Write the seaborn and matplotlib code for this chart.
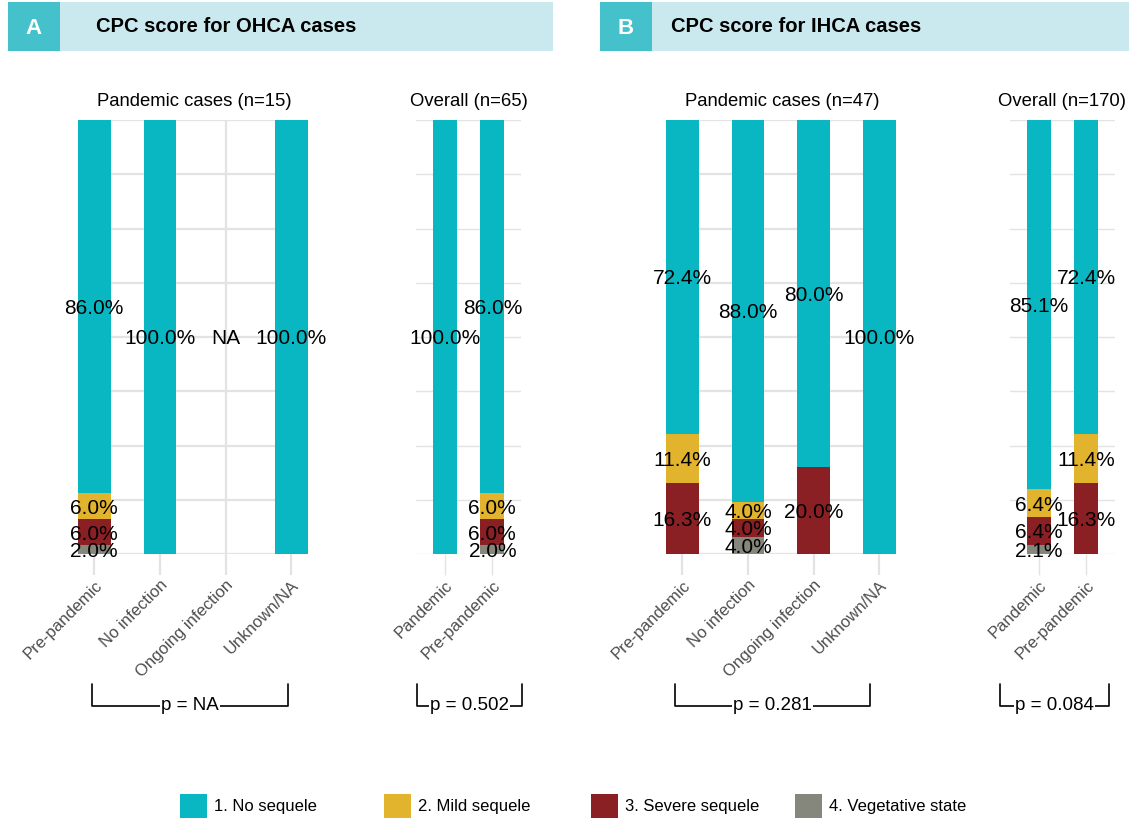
import numpy as np
import pandas as pd
import seaborn as sns
import matplotlib.pyplot as plt
from matplotlib.patches import Rectangle
from matplotlib.lines import Line2D

sns.set_theme(style="white")
plt.rcParams["font.family"] = ["Liberation Sans", "DejaVu Sans"]

# ---- data (percent of cases per CPC level) ----
cpc_levels = ["1. No sequele", "2. Mild sequele", "3. Severe sequele", "4. Vegetative state"]
cpc_colors = ["#08b7c2", "#e2b42d", "#8a2024", "#85867c"]

ohca_groups = ["Pre-pandemic", "No infection", "Ongoing infection", "Unknown/NA"]
ohca_no_sequele = [86.0, 100.0, np.nan, 100.0]
ohca_mild = [6.0, 0.0, np.nan, 0.0]
ohca_severe = [6.0, 0.0, np.nan, 0.0]
ohca_vegetative = [2.0, 0.0, np.nan, 0.0]

ohca_overall_groups = ["Pandemic", "Pre-pandemic"]
ohca_overall_no_sequele = [100.0, 86.0]
ohca_overall_mild = [0.0, 6.0]
ohca_overall_severe = [0.0, 6.0]
ohca_overall_vegetative = [0.0, 2.0]

ihca_groups = ["Pre-pandemic", "No infection", "Ongoing infection", "Unknown/NA"]
ihca_no_sequele = [72.4, 88.0, 80.0, 100.0]
ihca_mild = [11.4, 4.0, 0.0, 0.0]
ihca_severe = [16.3, 4.0, 20.0, 0.0]
ihca_vegetative = [0.0, 4.0, 0.0, 0.0]

ihca_overall_groups = ["Pandemic", "Pre-pandemic"]
ihca_overall_no_sequele = [85.1, 72.4]
ihca_overall_mild = [6.4, 11.4]
ihca_overall_severe = [6.4, 16.3]
ihca_overall_vegetative = [2.1, 0.0]

p_values = ["p = NA", "p = 0.502", "p = 0.281", "p = 0.084"]

W, H = 1129, 818
fig = plt.figure(figsize=(W / 100, H / 100), dpi=100)


def fx(x):
    return x / W


def fy(y):
    return 1 - y / H


def draw_panel(left, right, xlim, groups, values, title, lw):
    top, bottom = 120, 554
    ax = fig.add_axes([fx(left), fy(bottom), (right - left) / W, (bottom - top) / H])
    df = pd.DataFrame(np.array(values).T, index=groups, columns=cpc_levels)
    cum = df[cpc_levels[::-1]].cumsum(axis=1, skipna=False)
    cum.index.name = "group"
    cum = cum.reset_index()
    # tallest cumulative bar first, each next level drawn over it
    for lev, col in zip(cpc_levels, cpc_colors):
        sns.barplot(data=cum, x="group", y=lev, order=groups, color=col,
                    saturation=1, width=0.5, linewidth=0, errorbar=None, ax=ax)
    for p in ax.patches:
        p.set_clip_on(False)

    for i, g in enumerate(groups):
        if df.loc[g].isna().all():
            ax.text(i, 50, "NA", ha="center", va="center_baseline", fontsize=15,
                    color="black")
            continue
        base = 0
        for lev in cpc_levels[::-1]:
            v = df.loc[g, lev]
            if v > 0:
                ax.text(i, base + v / 2, f"{v:.1f}%", ha="center", va="center_baseline",
                        fontsize=15, color="black", zorder=5)
            base += v

    ax.set_xlim(*xlim)
    ax.set_ylim(0, 100)
    ax.set_yticks(np.arange(0, 100.1, 12.5))
    ax.set_yticklabels([])
    ax.tick_params(axis="y", length=0)
    ax.grid(True, axis="both", color="#e3e3e3", linewidth=lw)
    ax.set_axisbelow(True)
    for s in ax.spines.values():
        s.set_visible(False)
    ax.set_xlabel("")
    ax.set_ylabel("")
    ax.tick_params(axis="x", bottom=True, length=15, width=lw, color="#e3e3e3",
                   pad=2, labelsize=12, labelcolor="#4d4d4d")
    ax.set_xticks(range(len(groups)))
    ax.set_xticklabels(groups, rotation=45, ha="right", rotation_mode="anchor")
    ax.set_title(title, fontsize=13.3, pad=10, color="black")
    return ax


draw_panel(91, 298, (-0.05, 3.1), ohca_groups,
           [ohca_no_sequele, ohca_mild, ohca_severe, ohca_vegetative],
           "Pandemic cases (n=15)", 1.6)
draw_panel(416, 521, (-0.6, 1.6), ohca_overall_groups,
           [ohca_overall_no_sequele, ohca_overall_mild, ohca_overall_severe, ohca_overall_vegetative],
           "Overall (n=65)", 1.0)
draw_panel(679, 886, (-0.05, 3.1), ihca_groups,
           [ihca_no_sequele, ihca_mild, ihca_severe, ihca_vegetative],
           "Pandemic cases (n=47)", 1.6)
draw_panel(1010, 1115, (-0.6, 1.6), ihca_overall_groups,
           [ihca_overall_no_sequele, ihca_overall_mild, ihca_overall_severe, ihca_overall_vegetative],
           "Overall (n=170)", 1.0)

# ---- panel headers ----
headers = [(8, 553, "A", "CPC score for OHCA cases", 96),
           (600, 1129, "B", "CPC score for IHCA cases", 671)]
for x0, x1, tag, text, tx in headers:
    fig.patches.append(Rectangle((fx(x0), fy(51)), (x1 - x0) / W, 49 / H,
                                 transform=fig.transFigure, facecolor="#cae9ee",
                                 edgecolor="none"))
    fig.patches.append(Rectangle((fx(x0), fy(51)), 52 / W, 49 / H,
                                 transform=fig.transFigure, facecolor="#45c1cb",
                                 edgecolor="none"))
    fig.text(fx(x0 + 26), fy(28), tag, ha="center", va="center", color="white",
             fontsize=16, fontweight="bold")
    fig.text(fx(tx), fy(26), text, ha="left", va="center", color="black",
             fontsize=14.5, fontweight="bold")

# ---- p-value brackets ----
brackets = [(92, 288), (417, 522), (675, 870), (1000, 1109)]
for (b0, b1), ptxt in zip(brackets, p_values):
    fig.add_artist(Line2D([fx(b0), fx(b0), fx(b1), fx(b1)],
                          [fy(684), fy(706), fy(706), fy(684)],
                          transform=fig.transFigure, color="black", linewidth=1.2))
    fig.text(fx((b0 + b1) / 2), fy(706), ptxt, ha="center", va="center",
             fontsize=13.5, color="black",
             bbox=dict(facecolor="white", edgecolor="none", pad=1))

# ---- legend ----
legend_x = [180, 384, 591, 795]
for lx, lev, col in zip(legend_x, cpc_levels, cpc_colors):
    fig.patches.append(Rectangle((fx(lx), fy(818)), 27 / W, 24 / H,
                                 transform=fig.transFigure, facecolor=col,
                                 edgecolor="none"))
    fig.text(fx(lx + 34), fy(807), lev, ha="left", va="center", fontsize=12,
             color="black")

fig.savefig("out.png", dpi=100)
